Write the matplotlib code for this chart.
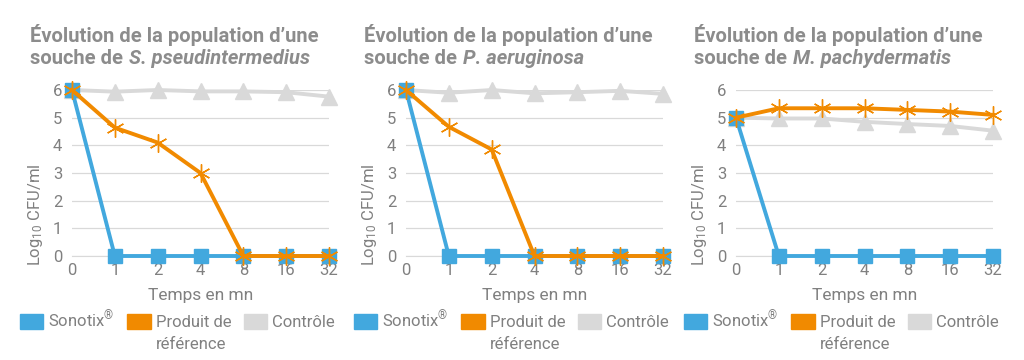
import numpy as np
import matplotlib
matplotlib.use("Agg")
import matplotlib.pyplot as plt
from matplotlib.patches import Patch

plt.rcParams['font.family'] = ['Roboto', 'DejaVu Sans']
plt.rcParams['mathtext.fontset'] = 'custom'
plt.rcParams['mathtext.rm'] = 'Roboto'
plt.rcParams['mathtext.it'] = 'Roboto:italic'

# data
temps = ['0', '1', '2', '4', '8', '16', '32']
especes = ['S. pseudintermedius', 'P. aeruginosa', 'M. pachydermatis']
sonotix = [
    [6, 0, 0, 0, 0, 0, 0],
    [6, 0, 0, 0, 0, 0, 0],
    [5, 0, 0, 0, 0, 0, 0],
]
produit_ref = [
    [6, 4.64, 4.1, 3.0, 0, 0, 0],
    [6, 4.67, 3.85, 0, 0, 0, 0],
    [5, 5.34, 5.34, 5.34, 5.28, 5.22, 5.1],
]
controle = [
    [6, 5.94, 6.0, 5.95, 5.95, 5.92, 5.76],
    [6, 5.9, 6.0, 5.88, 5.92, 5.97, 5.86],
    [5, 4.97, 4.97, 4.85, 4.77, 4.7, 4.53],
]
noms = ['Sonotix$^{®}$', 'Produit de', 'Contrôle']

bleu = '#42A8DE'
orange = '#F18A00'
gris = '#D9D9D9'
txt = '#808080'
titre_c = '#8C8C8C'

fig = plt.figure(figsize=(10.24, 3.6), dpi=100)
lefts = [72, 406, 736]
title_x = [30, 364, 694]
x = np.arange(len(temps))

axes = []
legs = []
for i in range(3):
    ax = fig.add_axes([lefts[i] / 1024, 1 - 256 / 360, 257 / 1024, 166 / 360])
    axes.append(ax)
    ax.plot(x, controle[i], color=gris, lw=2.8, marker='^', ms=11, clip_on=False, zorder=3)
    ax.plot(x, sonotix[i], color=bleu, lw=2.8, marker='s', ms=10, clip_on=False, zorder=4)
    ax.plot(x, produit_ref[i], color=orange, lw=2.8, marker=(6, 2, 0), ms=13,
            mew=1.0, clip_on=False, zorder=5)
    ax.set_xlim(0, 6)
    ax.set_ylim(0, 6)
    ax.set_xticks(x)
    ax.set_xticklabels(temps)
    ax.set_yticks(range(7))
    ax.grid(axis='y', color=gris, lw=0.9)
    ax.set_axisbelow(True)
    for s in ['top', 'right', 'left']:
        ax.spines[s].set_visible(False)
    ax.spines['bottom'].set_color(gris)
    ax.tick_params(axis='both', length=0, labelsize=12, labelcolor=txt)
    ax.tick_params(axis='x', pad=5)
    ax.tick_params(axis='y', pad=7)
    ax.set_xlabel('Temps en mn', fontsize=12.5, color=txt, labelpad=7)
    ax.set_ylabel('Log$_{10}$ CFU/ml', fontsize=12, color=txt)
    ax.yaxis.set_label_coords(-0.105, 0.25)

    handles = [Patch(color=bleu), Patch(color=orange), Patch(color=gris)]
    leg = fig.legend(handles, noms, loc='upper left',
                     bbox_to_anchor=((lefts[i] - 52) / 1024, 1 - 309 / 360),
                     ncol=3, frameon=False, fontsize=12, handlelength=1.4,
                     handleheight=0.95, handletextpad=0.3, columnspacing=0.75,
                     borderpad=0, borderaxespad=0)
    for t in leg.get_texts():
        t.set_color(txt)
    legs.append(leg)

    fig.text(title_x[i] / 1024, 1 - 42 / 360, 'Évolution de la population d\u2019une',
             fontsize=14.5, fontweight='bold', color=titre_c)

fig.canvas.draw()
r = fig.canvas.get_renderer()
for i, ax in enumerate(axes):
    t2 = fig.text(title_x[i] / 1024, 1 - 64 / 360, 'souche de ',
                  fontsize=14.5, fontweight='bold', color=titre_c)
    bb = t2.get_window_extent(r)
    fig.text(bb.x1 / 1024 + 0.001, 1 - 64 / 360, especes[i],
             fontsize=14.5, fontweight='bold', style='italic', color=titre_c)
    # second line of the legend label
    pt = legs[i].get_texts()[1]
    pb = pt.get_window_extent(r)
    fig.text(pb.x0 / 1024, pb.y0 / 360 - 0.053, 'référence', fontsize=12, color=txt)

fig.savefig('out.png', dpi=100, facecolor='white')
